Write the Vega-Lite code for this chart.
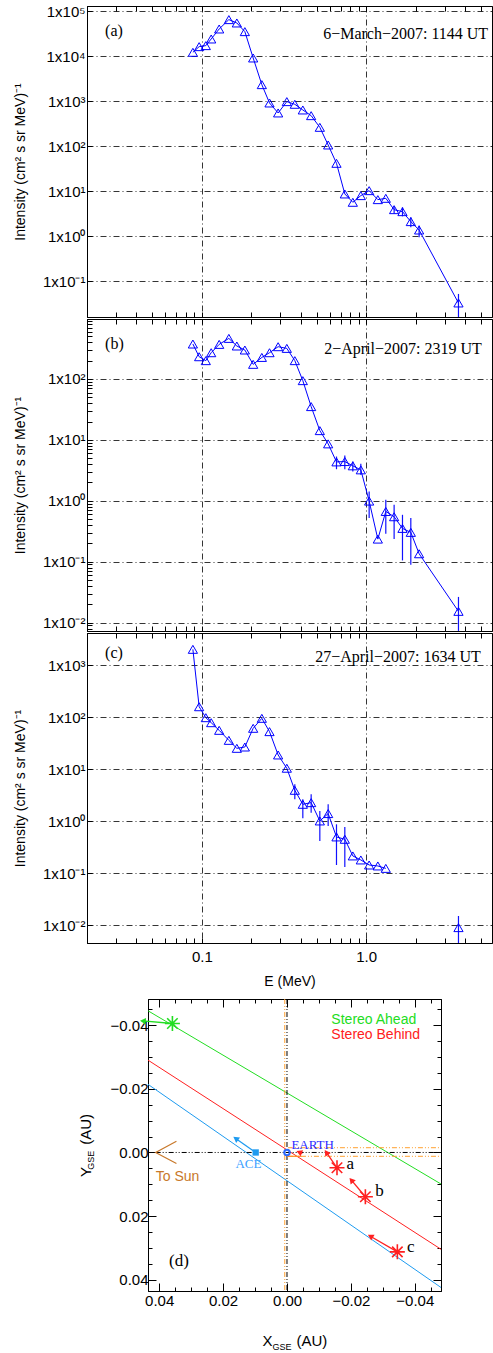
{
  "$schema": "https://vega.github.io/schema/vega-lite/v6.json",
  "padding": {"left": 12, "top": 3, "right": 0, "bottom": 0},
  "spacing": 0,
  "config": {
    "view": {"stroke": "#000", "strokeWidth": 1},
    "axis": {"domainColor": "#000", "tickColor": "#000", "labelColor": "#000", "titleColor": "#000", "labelFont": "Liberation Sans", "titleFont": "Liberation Sans", "titleFontWeight": "normal", "labelFontSize": 15, "titleFontSize": 14, "labelOverlap": false, "labelFlush": false, "labelBound": false, "gridColor": "#000", "gridDash": [6, 3, 1, 3], "gridWidth": 0.8, "domainWidth": 1, "tickWidth": 1}
  },
  "datasets": {
    "spec": [
      {"p": "a", "E": 0.0882, "I": 12270, "seg": 1},
      {"p": "a", "E": 0.0963, "I": 16400, "seg": 1},
      {"p": "a", "E": 0.1057, "I": 17270, "seg": 1},
      {"p": "a", "E": 0.114, "I": 24270, "seg": 1},
      {"p": "a", "E": 0.1275, "I": 40460, "seg": 1},
      {"p": "a", "E": 0.146, "I": 65350, "seg": 1},
      {"p": "a", "E": 0.1633, "I": 55080, "seg": 1},
      {"p": "a", "E": 0.1827, "I": 35340, "seg": 1},
      {"p": "a", "E": 0.2053, "I": 9180, "seg": 1},
      {"p": "a", "E": 0.2318, "I": 2346, "seg": 1},
      {"p": "a", "E": 0.2581, "I": 918, "seg": 1},
      {"p": "a", "E": 0.2913, "I": 551, "seg": 1},
      {"p": "a", "E": 0.329, "I": 984, "seg": 1},
      {"p": "a", "E": 0.368, "I": 858, "seg": 1},
      {"p": "a", "E": 0.4117, "I": 642, "seg": 1},
      {"p": "a", "E": 0.4627, "I": 480, "seg": 1},
      {"p": "a", "E": 0.5225, "I": 264, "seg": 1},
      {"p": "a", "E": 0.5872, "I": 107, "seg": 1},
      {"p": "a", "E": 0.6599, "I": 41.9, "seg": 1},
      {"p": "a", "E": 0.7416, "I": 8.73, "seg": 1},
      {"p": "a", "E": 0.8296, "I": 5.7, "seg": 1},
      {"p": "a", "E": 0.928, "I": 8.02, "seg": 1},
      {"p": "a", "E": 1.043, "I": 10.35, "seg": 1},
      {"p": "a", "E": 1.178, "I": 6.53, "seg": 1},
      {"p": "a", "E": 1.317, "I": 6.99, "seg": 1},
      {"p": "a", "E": 1.48, "I": 3.91, "lo": 3.2, "hi": 4.6, "seg": 1},
      {"p": "a", "E": 1.664, "I": 3.53, "lo": 2.78, "hi": 4.41, "seg": 1},
      {"p": "a", "E": 1.87, "I": 2.12, "lo": 1.585, "hi": 2.64, "seg": 1},
      {"p": "a", "E": 2.101, "I": 1.38, "lo": 0.95, "hi": 1.73, "seg": 1},
      {"p": "a", "E": 3.647, "I": 0.033, "lo": 0.0146, "hi": 0.0524, "seg": 1},
      {"p": "b", "E": 0.0882, "I": 375, "seg": 1},
      {"p": "b", "E": 0.0963, "I": 232, "seg": 1},
      {"p": "b", "E": 0.1057, "I": 200, "seg": 1},
      {"p": "b", "E": 0.114, "I": 270, "seg": 1},
      {"p": "b", "E": 0.1275, "I": 370, "seg": 1},
      {"p": "b", "E": 0.146, "I": 464, "seg": 1},
      {"p": "b", "E": 0.1633, "I": 348, "seg": 1},
      {"p": "b", "E": 0.1827, "I": 299, "seg": 1},
      {"p": "b", "E": 0.2053, "I": 174, "seg": 1},
      {"p": "b", "E": 0.2318, "I": 226, "seg": 1},
      {"p": "b", "E": 0.2581, "I": 270, "seg": 1},
      {"p": "b", "E": 0.2913, "I": 339, "seg": 1},
      {"p": "b", "E": 0.329, "I": 318, "seg": 1},
      {"p": "b", "E": 0.368, "I": 200, "seg": 1},
      {"p": "b", "E": 0.4117, "I": 93.9, "seg": 1},
      {"p": "b", "E": 0.4627, "I": 35.2, "seg": 1},
      {"p": "b", "E": 0.5225, "I": 14.2, "seg": 1},
      {"p": "b", "E": 0.5872, "I": 8.6, "seg": 1},
      {"p": "b", "E": 0.6599, "I": 4.35, "lo": 3.3, "hi": 5.33, "seg": 1},
      {"p": "b", "E": 0.7416, "I": 4.41, "lo": 3.3, "hi": 5.54, "seg": 1},
      {"p": "b", "E": 0.8296, "I": 3.75, "lo": 3.03, "hi": 4.41, "seg": 1},
      {"p": "b", "E": 0.928, "I": 3.22, "lo": 2.67, "hi": 4.04, "seg": 1},
      {"p": "b", "E": 1.043, "I": 0.989, "lo": 0.52, "hi": 1.42, "seg": 1},
      {"p": "b", "E": 1.178, "I": 0.235, "seg": 1},
      {"p": "b", "E": 1.317, "I": 0.668, "lo": 0.288, "hi": 1.04, "seg": 1},
      {"p": "b", "E": 1.48, "I": 0.547, "lo": 0.236, "hi": 0.859, "seg": 1},
      {"p": "b", "E": 1.664, "I": 0.352, "lo": 0.105, "hi": 0.589, "seg": 1},
      {"p": "b", "E": 1.87, "I": 0.303, "lo": 0.0893, "hi": 0.52, "seg": 1},
      {"p": "b", "E": 2.101, "I": 0.135, "seg": 1},
      {"p": "b", "E": 3.647, "I": 0.0153, "lo": 0.0073, "hi": 0.0264, "seg": 1},
      {"p": "c", "E": 0.0882, "I": 2000, "seg": 1},
      {"p": "c", "E": 0.0963, "I": 158, "seg": 1},
      {"p": "c", "E": 0.1057, "I": 97.3, "seg": 1},
      {"p": "c", "E": 0.114, "I": 78, "seg": 1},
      {"p": "c", "E": 0.1275, "I": 55.6, "seg": 1},
      {"p": "c", "E": 0.146, "I": 35.7, "seg": 1},
      {"p": "c", "E": 0.1633, "I": 25.1, "seg": 1},
      {"p": "c", "E": 0.1827, "I": 26.6, "seg": 1},
      {"p": "c", "E": 0.2053, "I": 60.8, "seg": 1},
      {"p": "c", "E": 0.2318, "I": 94.6, "seg": 1},
      {"p": "c", "E": 0.2581, "I": 52.5, "seg": 1},
      {"p": "c", "E": 0.2913, "I": 18.7, "seg": 1},
      {"p": "c", "E": 0.329, "I": 10.4, "seg": 1},
      {"p": "c", "E": 0.368, "I": 3.92, "lo": 2.63, "hi": 5.1, "seg": 1},
      {"p": "c", "E": 0.4117, "I": 2.11, "lo": 1.135, "hi": 2.63, "seg": 1},
      {"p": "c", "E": 0.4627, "I": 2.27, "lo": 1.46, "hi": 3.28, "seg": 1},
      {"p": "c", "E": 0.5225, "I": 1.01, "lo": 0.417, "hi": 1.57, "seg": 1},
      {"p": "c", "E": 0.5872, "I": 1.4, "lo": 0.809, "hi": 2.11, "seg": 1},
      {"p": "c", "E": 0.6599, "I": 0.498, "lo": 0.144, "hi": 0.871, "seg": 1},
      {"p": "c", "E": 0.7416, "I": 0.449, "lo": 0.132, "hi": 0.774, "seg": 1},
      {"p": "c", "E": 0.8296, "I": 0.215, "seg": 1},
      {"p": "c", "E": 0.928, "I": 0.18, "seg": 1},
      {"p": "c", "E": 1.043, "I": 0.144, "seg": 1},
      {"p": "c", "E": 1.178, "I": 0.138, "seg": 1},
      {"p": "c", "E": 1.317, "I": 0.124, "seg": 1},
      {"p": "c", "E": 3.647, "I": 0.00902, "lo": 0.0045, "hi": 0.0151, "seg": 2}
    ],
    "notes": [
      {"p": "a", "E": 0.02578, "I": 37120, "t": "(a)"},
      {"p": "a", "E": 0.5474, "I": 31350, "t": "6−March−2007: 1144 UT"},
      {"p": "b", "E": 0.02578, "I": 375.5, "t": "(b)"},
      {"p": "b", "E": 0.5552, "I": 310.9, "t": "2−April−2007: 2319 UT"},
      {"p": "c", "E": 0.02578, "I": 1723, "t": "(c)"},
      {"p": "c", "E": 0.4893, "I": 1424, "t": "27−April−2007: 1634 UT"}
    ],
    "tracks": [
      {"craft": "Ahead", "x": 0.0435, "y": -0.0445},
      {"craft": "Ahead", "x": -0.0482, "y": 0.0099},
      {"craft": "Behind", "x": 0.0435, "y": -0.029},
      {"craft": "Behind", "x": -0.0482, "y": 0.0304},
      {"craft": "ACE", "x": 0.0435, "y": -0.0214},
      {"craft": "ACE", "x": -0.0482, "y": 0.0424}
    ],
    "arrows": [
      {"craft": "Ahead", "x0": 0.03586, "y0": -0.0405, "x1": 0.0451, "y1": -0.0413},
      {"craft": "Behind", "x0": -0.01565, "y0": 0.0048, "x1": -0.01233, "y1": 0.0},
      {"craft": "Behind", "x0": -0.02453, "y0": 0.0139, "x1": -0.02015, "y1": 0.0087},
      {"craft": "Behind", "x0": -0.03454, "y0": 0.0312, "x1": -0.0261, "y1": 0.0263},
      {"craft": "Behind", "x0": -0.0048, "y0": 0.0003, "x1": -0.0038, "y1": -0.0001},
      {"craft": "ACE", "x0": 0.0098, "y0": 0.0, "x1": 0.01605, "y1": -0.0044}
    ],
    "stars": [
      {"craft": "Ahead", "x": 0.03586, "y": -0.0405},
      {"craft": "Behind", "x": -0.01565, "y": 0.0048},
      {"craft": "Behind", "x": -0.02453, "y": 0.0139},
      {"craft": "Behind", "x": -0.03454, "y": 0.0312}
    ],
    "segs": [
      {"k": "sun", "x": 0.0411, "y": 0, "x2": -0.0482, "y2": 0},
      {"k": "sun", "x": 0, "y": -0.0482, "x2": 0, "y2": 0.0435},
      {"k": "org", "x": 0.0007, "y": -0.0482, "x2": 0.0007, "y2": 0.0435},
      {"k": "org", "x": -0.0003, "y": -0.0015, "x2": -0.0482, "y2": -0.0015},
      {"k": "org", "x": -0.0003, "y": 0.0012, "x2": -0.0482, "y2": 0.0012},
      {"k": "orgs", "x": 0.0, "y": 0.0012, "x2": -0.0045, "y2": 0.0012}
    ],
    "chev": [
      {"o": 1, "x": 0.0346, "y": -0.00355},
      {"o": 2, "x": 0.0411, "y": 0},
      {"o": 3, "x": 0.0346, "y": 0.00345}
    ],
    "dtext": [
      {"k": "serif", "t": "a", "x": -0.01859, "y": 0.00367},
      {"k": "serif", "t": "b", "x": -0.02766, "y": 0.01202},
      {"k": "serif", "t": "c", "x": -0.03755, "y": 0.0298},
      {"k": "serif", "t": "(d)", "x": 0.03692, "y": 0.0341},
      {"k": "ace", "t": "ACE", "x": 0.01615, "y": 0.00376},
      {"k": "earth", "t": "EARTH", "x": -0.00138, "y": -0.00229},
      {"k": "sun", "t": "To Sun", "x": 0.04108, "y": 0.00763},
      {"k": "Ahead", "t": "Stereo Ahead", "x": -0.01389, "y": -0.04173},
      {"k": "Behind", "t": "Stereo Behind", "x": -0.01389, "y": -0.03702},
      {"k": "big", "t": "X", "x": 0.0077, "y": 0.05914},
      {"k": "sub", "t": "GSE", "x": 0.00457, "y": 0.06096},
      {"k": "big", "t": "(AU)", "x": -0.00294, "y": 0.05914},
      {"k": "ybig", "t": "Y", "x": 0.063, "y": 0.00612},
      {"k": "ysub", "t": "GSE", "x": 0.0614, "y": 0.00242},
      {"k": "ybig", "t": "(AU)", "x": 0.0628, "y": -0.00728}
    ]
  },
  "vconcat": [
    {
      "width": 405, "height": 311,
      "layer": [
        {"data": {"name": "spec"}, "transform": [{"filter": "datum.p == 'a'"}],
         "mark": {"type": "line", "color": "#0000ff", "strokeWidth": 1, "clip": true},
         "encoding": {
           "x": {"field": "E", "type": "quantitative", "scale": {"type": "log", "domain": [0.02, 5.834], "nice": false},
                 "axis": {"orient": "bottom", "values": [0.02,0.03,0.04,0.05,0.06,0.07,0.08,0.09,0.1,0.2,0.3,0.4,0.5,0.6,0.7,0.8,0.9,1,2,3,4,5], "labels": false, "title": null, "tickSize": -5, "grid": true, "gridOpacity": {"condition": {"test": "datum.value == 0.1 || datum.value == 1", "value": 1}, "value": 0}}},
           "y": {"field": "I", "type": "quantitative", "scale": {"type": "log", "domain": [0.0161, 131200], "nice": false},
                 "axis": {"orient": "left", "values": [0.1,1,10,100,1000,10000,100000], "labelExpr": "'1x10' + ['⁻³','⁻²','⁻¹','⁰','¹','²','³','⁴','⁵'][round(log(datum.value)/LN10) + 3]", "tickSize": -5, "labelPadding": 7, "grid": true, "title": "Intensity (cm² s sr MeV)⁻¹", "titlePadding": 15}},
           "detail": {"field": "seg", "type": "nominal"}
         }},
        {"data": {"name": "spec"}, "transform": [{"filter": "datum.p == 'a'"}],
         "mark": {"type": "rule", "color": "#1010ff", "strokeWidth": 1.2, "clip": true},
         "encoding": {"x": {"field": "E", "type": "quantitative", "axis": null}, "y": {"field": "lo", "type": "quantitative"}, "y2": {"field": "hi"}}},
        {"data": {"name": "spec"}, "transform": [{"filter": "datum.p == 'a'"}],
         "mark": {"type": "point", "shape": "triangle-up", "filled": false, "color": "#0000ff", "size": 85, "strokeWidth": 1, "opacity": 1, "clip": true},
         "encoding": {"x": {"field": "E", "type": "quantitative", "axis": {"orient": "top", "values": [0.02,0.03,0.04,0.05,0.06,0.07,0.08,0.09,0.1,0.2,0.3,0.4,0.5,0.6,0.7,0.8,0.9,1,2,3,4,5], "labels": false, "title": null, "tickSize": -5, "grid": false}}, "y": {"field": "I", "type": "quantitative"}}},
        {"data": {"name": "notes"}, "transform": [{"filter": "datum.p == 'a'"}],
         "mark": {"type": "text", "font": "Liberation Serif", "fontSize": 16, "align": "left", "baseline": "middle", "color": "#000", "clip": true},
         "encoding": {"x": {"field": "E", "type": "quantitative", "axis": null}, "y": {"field": "I", "type": "quantitative"}, "text": {"field": "t"}}}
      ],
      "resolve": {"axis": {"x": "independent"}}
    },
    {
      "width": 405, "height": 312,
      "layer": [
        {"data": {"name": "spec"}, "transform": [{"filter": "datum.p == 'b'"}],
         "mark": {"type": "line", "color": "#0000ff", "strokeWidth": 1, "clip": true},
         "encoding": {
           "x": {"field": "E", "type": "quantitative", "scale": {"type": "log", "domain": [0.02, 5.834], "nice": false},
                 "axis": {"orient": "bottom", "values": [0.02,0.03,0.04,0.05,0.06,0.07,0.08,0.09,0.1,0.2,0.3,0.4,0.5,0.6,0.7,0.8,0.9,1,2,3,4,5], "labels": false, "title": null, "tickSize": -5, "grid": true, "gridOpacity": {"condition": {"test": "datum.value == 0.1 || datum.value == 1", "value": 1}, "value": 0}}},
           "y": {"field": "I", "type": "quantitative", "scale": {"type": "log", "domain": [0.00728, 966], "nice": false},
                 "axis": {"orient": "left", "values": [0.01,0.1,1,10,100], "labelExpr": "'1x10' + ['⁻³','⁻²','⁻¹','⁰','¹','²','³','⁴','⁵'][round(log(datum.value)/LN10) + 3]", "tickSize": -5, "labelPadding": 7, "grid": true, "title": "Intensity (cm² s sr MeV)⁻¹", "titlePadding": 15}},
           "detail": {"field": "seg", "type": "nominal"}
         }},
        {"data": {"name": "spec"}, "transform": [{"filter": "datum.p == 'b'"}],
         "mark": {"type": "rule", "color": "#1010ff", "strokeWidth": 1.2, "clip": true},
         "encoding": {"x": {"field": "E", "type": "quantitative", "axis": null}, "y": {"field": "lo", "type": "quantitative", "axis": null}, "y2": {"field": "hi"}}},
        {"data": {"name": "spec"}, "transform": [{"filter": "datum.p == 'b'"}],
         "mark": {"type": "point", "shape": "triangle-up", "filled": false, "color": "#0000ff", "size": 85, "strokeWidth": 1, "opacity": 1, "clip": true},
         "encoding": {"x": {"field": "E", "type": "quantitative", "axis": {"orient": "top", "values": [0.02,0.03,0.04,0.05,0.06,0.07,0.08,0.09,0.1,0.2,0.3,0.4,0.5,0.6,0.7,0.8,0.9,1,2,3,4,5], "labels": false, "title": null, "tickSize": -5, "grid": false}},
                      "y": {"field": "I", "type": "quantitative", "axis": {"orient": "left", "values": [0.008,0.009,0.02,0.03,0.04,0.05,0.06,0.07,0.08,0.09,0.2,0.3,0.4,0.5,0.6,0.7,0.8,0.9,2,3,4,5,6,7,8,9,20,30,40,50,60,70,80,90,200,300,400,500,600,700,800,900], "labels": false, "tickSize": -5, "grid": false, "title": null, "domain": false}}}},
        {"data": {"name": "notes"}, "transform": [{"filter": "datum.p == 'b'"}],
         "mark": {"type": "text", "font": "Liberation Serif", "fontSize": 16, "align": "left", "baseline": "middle", "color": "#000", "clip": true},
         "encoding": {"x": {"field": "E", "type": "quantitative", "axis": null}, "y": {"field": "I", "type": "quantitative", "axis": null}, "text": {"field": "t"}}}
      ],
      "resolve": {"axis": {"x": "independent", "y": "independent"}}
    },
    {
      "width": 405, "height": 310,
      "layer": [
        {"data": {"name": "spec"}, "transform": [{"filter": "datum.p == 'c'"}],
         "mark": {"type": "line", "color": "#0000ff", "strokeWidth": 1, "clip": true},
         "encoding": {
           "x": {"field": "E", "type": "quantitative", "scale": {"type": "log", "domain": [0.02, 5.834], "nice": false},
                 "axis": {"orient": "bottom", "values": [0.02,0.03,0.04,0.05,0.06,0.07,0.08,0.09,0.1,0.2,0.3,0.4,0.5,0.6,0.7,0.8,0.9,1,2,3,4,5], "labelExpr": "datum.value == 0.1 ? '0.1' : (datum.value == 1 ? '1.0' : '')", "labelPadding": 11.5, "title": "E (MeV)", "titlePadding": 9.5, "tickSize": -5, "grid": true, "gridOpacity": {"condition": {"test": "datum.value == 0.1 || datum.value == 1", "value": 1}, "value": 0}}},
           "y": {"field": "I", "type": "quantitative", "scale": {"type": "log", "domain": [0.00457, 4121], "nice": false},
                 "axis": {"orient": "left", "values": [0.01,0.1,1,10,100,1000], "labelExpr": "'1x10' + ['⁻³','⁻²','⁻¹','⁰','¹','²','³','⁴','⁵'][round(log(datum.value)/LN10) + 3]", "tickSize": -5, "labelPadding": 7, "grid": true, "title": "Intensity (cm² s sr MeV)⁻¹", "titlePadding": 15}},
           "detail": {"field": "seg", "type": "nominal"}
         }},
        {"data": {"name": "spec"}, "transform": [{"filter": "datum.p == 'c'"}],
         "mark": {"type": "rule", "color": "#1010ff", "strokeWidth": 1.2, "clip": true},
         "encoding": {"x": {"field": "E", "type": "quantitative", "axis": null}, "y": {"field": "lo", "type": "quantitative"}, "y2": {"field": "hi"}}},
        {"data": {"name": "spec"}, "transform": [{"filter": "datum.p == 'c'"}],
         "mark": {"type": "point", "shape": "triangle-up", "filled": false, "color": "#0000ff", "size": 85, "strokeWidth": 1, "opacity": 1, "clip": true},
         "encoding": {"x": {"field": "E", "type": "quantitative", "axis": {"orient": "top", "values": [0.02,0.03,0.04,0.05,0.06,0.07,0.08,0.09,0.1,0.2,0.3,0.4,0.5,0.6,0.7,0.8,0.9,1,2,3,4,5], "labels": false, "title": null, "tickSize": -5, "grid": false}}, "y": {"field": "I", "type": "quantitative"}}},
        {"data": {"name": "notes"}, "transform": [{"filter": "datum.p == 'c'"}],
         "mark": {"type": "text", "font": "Liberation Serif", "fontSize": 16, "align": "left", "baseline": "middle", "color": "#000", "clip": true},
         "encoding": {"x": {"field": "E", "type": "quantitative", "axis": null}, "y": {"field": "I", "type": "quantitative"}, "text": {"field": "t"}}}
      ],
      "resolve": {"axis": {"x": "independent"}}
    },
    {
      "bounds": "flush",
      "spacing": 0,
      "hconcat": [
        {"width": 61, "height": 10, "data": {"values": [{}]}, "mark": {"type": "text", "text": ""}, "view": {"stroke": null}},
        {
          "width": 293, "height": 292,
          "title": {"text": " ", "fontSize": 9, "offset": 0},
          "layer": [
            {"data": {"name": "tracks"},
             "mark": {"type": "line", "strokeWidth": 1, "clip": true},
             "encoding": {
               "x": {"field": "x", "type": "quantitative", "scale": {"domain": [-0.0482, 0.0435], "reverse": true, "nice": false, "zero": false},
                     "axis": {"orient": "bottom", "values": [-0.045,-0.04,-0.035,-0.03,-0.025,-0.02,-0.015,-0.01,-0.005,0,0.005,0.01,0.015,0.02,0.025,0.03,0.035,0.04], "labelExpr": "abs(datum.value*50 - round(datum.value*50)) < 0.000001 ? format(datum.value, '.2f') : ''", "tickSize": {"condition": {"test": "abs(datum.value*50 - round(datum.value*50)) < 0.000001", "value": -8}, "value": -4}, "labelPadding": 10.5, "title": null, "grid": false}},
               "y": {"field": "y", "type": "quantitative", "scale": {"domain": [-0.0482, 0.0435], "reverse": true, "nice": false, "zero": false},
                     "axis": {"orient": "left", "values": [-0.045,-0.04,-0.035,-0.03,-0.025,-0.02,-0.015,-0.01,-0.005,0,0.005,0.01,0.015,0.02,0.025,0.03,0.035,0.04], "labelExpr": "abs(datum.value*50 - round(datum.value*50)) < 0.000001 ? format(datum.value, '.2f') : ''", "tickSize": {"condition": {"test": "abs(datum.value*50 - round(datum.value*50)) < 0.000001", "value": -8}, "value": -4}, "labelPadding": 8, "title": null, "grid": false}},
               "color": {"field": "craft", "type": "nominal", "scale": {"domain": ["Ahead", "Behind", "ACE"], "range": ["#22dd22", "#ff2020", "#1e9bf0"]}, "legend": null}
             }},
            {"data": {"name": "segs"}, "transform": [{"filter": "datum.k == 'sun'"}],
             "mark": {"type": "rule", "color": "#000", "strokeWidth": 1, "strokeDash": [5, 2, 1, 2, 1, 2]},
             "encoding": {"x": {"field": "x", "type": "quantitative", "axis": {"orient": "top", "values": [-0.045,-0.04,-0.035,-0.03,-0.025,-0.02,-0.015,-0.01,-0.005,0,0.005,0.01,0.015,0.02,0.025,0.03,0.035,0.04], "labels": false, "tickSize": {"condition": {"test": "abs(datum.value*50 - round(datum.value*50)) < 0.000001", "value": -8}, "value": -4}, "title": null, "grid": false}},
                          "y": {"field": "y", "type": "quantitative", "axis": {"orient": "right", "values": [-0.045,-0.04,-0.035,-0.03,-0.025,-0.02,-0.015,-0.01,-0.005,0,0.005,0.01,0.015,0.02,0.025,0.03,0.035,0.04], "labels": false, "tickSize": {"condition": {"test": "abs(datum.value*50 - round(datum.value*50)) < 0.000001", "value": -8}, "value": -4}, "title": null, "grid": false}},
                          "x2": {"field": "x2"}, "y2": {"field": "y2"}}},
            {"data": {"name": "segs"}, "transform": [{"filter": "datum.k == 'org'"}],
             "mark": {"type": "rule", "color": "#ffa030", "strokeWidth": 1, "strokeDash": [5, 2, 1, 2, 1, 2]},
             "encoding": {"x": {"field": "x", "type": "quantitative", "axis": null}, "y": {"field": "y", "type": "quantitative", "axis": null}, "x2": {"field": "x2"}, "y2": {"field": "y2"}}},
            {"data": {"name": "segs"}, "transform": [{"filter": "datum.k == 'orgs'"}],
             "mark": {"type": "rule", "color": "#ff8c20", "strokeWidth": 1.2},
             "encoding": {"x": {"field": "x", "type": "quantitative", "axis": null}, "y": {"field": "y", "type": "quantitative", "axis": null}, "x2": {"field": "x2"}, "y2": {"field": "y2"}}},
            {"data": {"name": "chev"},
             "mark": {"type": "line", "color": "#c8782a", "strokeWidth": 1.2},
             "encoding": {"x": {"field": "x", "type": "quantitative", "axis": null}, "y": {"field": "y", "type": "quantitative", "axis": null}, "order": {"field": "o"}}},
            {"data": {"name": "arrows"},
             "mark": {"type": "rule", "strokeWidth": 1.3},
             "encoding": {"x": {"field": "x0", "type": "quantitative", "axis": null}, "y": {"field": "y0", "type": "quantitative", "axis": null}, "x2": {"field": "x1"}, "y2": {"field": "y1"}, "color": {"field": "craft", "type": "nominal", "legend": null}}},
            {"data": {"name": "arrows"},
             "transform": [{"calculate": "atan2(-(datum.x1 - datum.x0), -(datum.y1 - datum.y0)) * 180 / PI", "as": "ang"}],
             "mark": {"type": "point", "shape": "triangle-up", "filled": true, "size": 45, "opacity": 1, "strokeWidth": 0},
             "encoding": {"x": {"field": "x1", "type": "quantitative", "axis": null}, "y": {"field": "y1", "type": "quantitative", "axis": null}, "angle": {"field": "ang", "type": "quantitative", "scale": null}, "color": {"field": "craft", "type": "nominal", "legend": null}}},
            {"data": {"name": "stars"},
             "mark": {"type": "point", "shape": "M-1,0L1,0M0,-1L0,1M-0.7,-0.7L0.7,0.7M-0.7,0.7L0.7,-0.7", "filled": false, "size": 225, "strokeWidth": 1.6, "opacity": 1},
             "encoding": {"x": {"field": "x", "type": "quantitative", "axis": null}, "y": {"field": "y", "type": "quantitative", "axis": null}, "color": {"field": "craft", "type": "nominal", "legend": null}}},
            {"data": {"values": [{"x": 0.0098, "y": 0}]},
             "mark": {"type": "point", "shape": "square", "filled": true, "size": 40, "color": "#1e9bf0", "opacity": 1},
             "encoding": {"x": {"field": "x", "type": "quantitative", "axis": null}, "y": {"field": "y", "type": "quantitative", "axis": null}}},
            {"data": {"values": [{"x": 0, "y": 0}]},
             "mark": {"type": "point", "shape": "circle", "filled": false, "size": 30, "color": "#2a6aff", "strokeWidth": 2, "opacity": 1},
             "encoding": {"x": {"field": "x", "type": "quantitative", "axis": null}, "y": {"field": "y", "type": "quantitative", "axis": null}}},
            {"data": {"name": "dtext"}, "transform": [{"filter": "datum.k == 'serif'"}],
             "mark": {"type": "text", "font": "Liberation Serif", "fontSize": 17, "align": "left", "baseline": "middle", "color": "#000"},
             "encoding": {"x": {"field": "x", "type": "quantitative", "axis": null}, "y": {"field": "y", "type": "quantitative", "axis": null}, "text": {"field": "t"}}},
            {"data": {"name": "dtext"}, "transform": [{"filter": "datum.k == 'ace'"}],
             "mark": {"type": "text", "font": "Liberation Serif", "fontSize": 13, "align": "left", "baseline": "middle", "color": "#3aa0ff"},
             "encoding": {"x": {"field": "x", "type": "quantitative", "axis": null}, "y": {"field": "y", "type": "quantitative", "axis": null}, "text": {"field": "t"}}},
            {"data": {"name": "dtext"}, "transform": [{"filter": "datum.k == 'earth'"}],
             "mark": {"type": "text", "font": "Liberation Serif", "fontSize": 13, "align": "left", "baseline": "middle", "color": "#2a2aff"},
             "encoding": {"x": {"field": "x", "type": "quantitative", "axis": null}, "y": {"field": "y", "type": "quantitative", "axis": null}, "text": {"field": "t"}}},
            {"data": {"name": "dtext"}, "transform": [{"filter": "datum.k == 'sun'"}],
             "mark": {"type": "text", "font": "Liberation Sans", "fontSize": 14, "align": "left", "baseline": "middle", "color": "#c8782a"},
             "encoding": {"x": {"field": "x", "type": "quantitative", "axis": null}, "y": {"field": "y", "type": "quantitative", "axis": null}, "text": {"field": "t"}}},
            {"data": {"name": "dtext"}, "transform": [{"filter": "datum.k == 'Ahead' || datum.k == 'Behind'"}],
             "mark": {"type": "text", "font": "Liberation Sans", "fontSize": 14, "align": "left", "baseline": "middle"},
             "encoding": {"x": {"field": "x", "type": "quantitative", "axis": null}, "y": {"field": "y", "type": "quantitative", "axis": null}, "text": {"field": "t"}, "color": {"field": "k", "type": "nominal", "legend": null}}},
            {"data": {"name": "dtext"}, "transform": [{"filter": "datum.k == 'big'"}],
             "mark": {"type": "text", "font": "Liberation Sans", "fontSize": 15, "align": "left", "baseline": "middle", "color": "#000"},
             "encoding": {"x": {"field": "x", "type": "quantitative", "axis": null}, "y": {"field": "y", "type": "quantitative", "axis": null}, "text": {"field": "t"}}},
            {"data": {"name": "dtext"}, "transform": [{"filter": "datum.k == 'sub'"}],
             "mark": {"type": "text", "font": "Liberation Sans", "fontSize": 9, "align": "left", "baseline": "middle", "color": "#000"},
             "encoding": {"x": {"field": "x", "type": "quantitative", "axis": null}, "y": {"field": "y", "type": "quantitative", "axis": null}, "text": {"field": "t"}}},
            {"data": {"name": "dtext"}, "transform": [{"filter": "datum.k == 'ybig'"}],
             "mark": {"type": "text", "font": "Liberation Sans", "fontSize": 15, "align": "center", "baseline": "middle", "angle": 270, "color": "#000"},
             "encoding": {"x": {"field": "x", "type": "quantitative", "axis": null}, "y": {"field": "y", "type": "quantitative", "axis": null}, "text": {"field": "t"}}},
            {"data": {"name": "dtext"}, "transform": [{"filter": "datum.k == 'ysub'"}],
             "mark": {"type": "text", "font": "Liberation Sans", "fontSize": 9, "align": "center", "baseline": "middle", "angle": 270, "color": "#000"},
             "encoding": {"x": {"field": "x", "type": "quantitative", "axis": null}, "y": {"field": "y", "type": "quantitative", "axis": null}, "text": {"field": "t"}}}
          ],
          "resolve": {"axis": {"x": "independent", "y": "independent"}}
        }
      ]
    }
  ]
}
